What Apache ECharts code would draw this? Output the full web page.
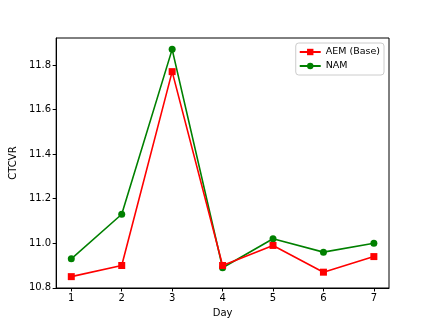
<!DOCTYPE html>
<html>
<head>
<meta charset="utf-8">
<script src="https://cdn.jsdelivr.net/npm/echarts@6/dist/echarts.min.js"></script>
<style>
html, body { margin: 0; padding: 0; background: #fff; }
#chart { width: 432px; height: 324px; }
</style>
</head>
<body>
<div id="chart"></div>
<script>
var days = [1, 2, 3, 4, 5, 6, 7];
var aemBase = [10.85, 10.90, 11.77, 10.90, 10.99, 10.87, 10.94];
var nam = [10.93, 11.13, 11.87, 10.89, 11.02, 10.96, 11.00];
var yTicks = [10.8, 11.0, 11.2, 11.4, 11.6, 11.8];

var chart = echarts.init(document.getElementById("chart"));
var font = "DejaVu Sans";

function pairs(vals) {
    return days.map(function (d, i) { return [d, vals[i]]; });
}

chart.setOption({
    animation: false,
    backgroundColor: "#fff",
    textStyle: { fontFamily: font },
    grid: {
        left: 54, right: 43, top: 38, bottom: 36,
        show: true, borderColor: "#000", borderWidth: 1,
        backgroundColor: "transparent"
    },
    legend: {
        orient: "vertical",
        right: 48, top: 43,
        padding: [4, 4, 4, 3],
        itemGap: 4,
        itemWidth: 21, itemHeight: 8,
        borderColor: "#ccc", borderWidth: 1, borderRadius: 3,
        textStyle: { fontFamily: font, fontSize: 9.5, color: "#000" },
        data: ["AEM (Base)", "NAM"]
    },
    xAxis: {
        type: "value",
        min: 0.7, max: 7.3,
        name: "Day", nameLocation: "middle", nameGap: 20,
        nameTextStyle: { fontFamily: font, fontSize: 10, color: "#000" },
        axisLine: { show: true, lineStyle: { color: "#000" } },
        axisTick: { show: true, inside: false, length: 3.5, customValues: days, lineStyle: { color: "#000" } },
        axisLabel: { customValues: days, fontFamily: font, fontSize: 10, color: "#000", margin: 5 },
        splitLine: { show: false }
    },
    yAxis: {
        type: "value",
        min: 10.799, max: 11.921,
        name: "CTCVR", nameLocation: "middle", nameGap: 36,
        nameTextStyle: { fontFamily: font, fontSize: 10, color: "#000" },
        axisLine: { show: true, lineStyle: { color: "#000" } },
        axisTick: { show: true, inside: false, length: 3.5, customValues: yTicks, lineStyle: { color: "#000" } },
        axisLabel: {
            customValues: yTicks, fontFamily: font, fontSize: 10, color: "#000", margin: 5,
            formatter: function (v) { return v.toFixed(1); }
        },
        splitLine: { show: false }
    },
    series: [
        {
            name: "AEM (Base)",
            type: "line",
            data: pairs(aemBase),
            symbol: "rect",
            symbolSize: 7,
            color: "#ff0000",
            lineStyle: { width: 1.6, color: "#ff0000" },
            itemStyle: { color: "#ff0000" },
            z: 3
        },
        {
            name: "NAM",
            type: "line",
            data: pairs(nam),
            symbol: "circle",
            symbolSize: 7,
            color: "#008000",
            lineStyle: { width: 1.6, color: "#008000" },
            itemStyle: { color: "#008000" },
            z: 2
        }
    ]
});
</script>
</body>
</html>
